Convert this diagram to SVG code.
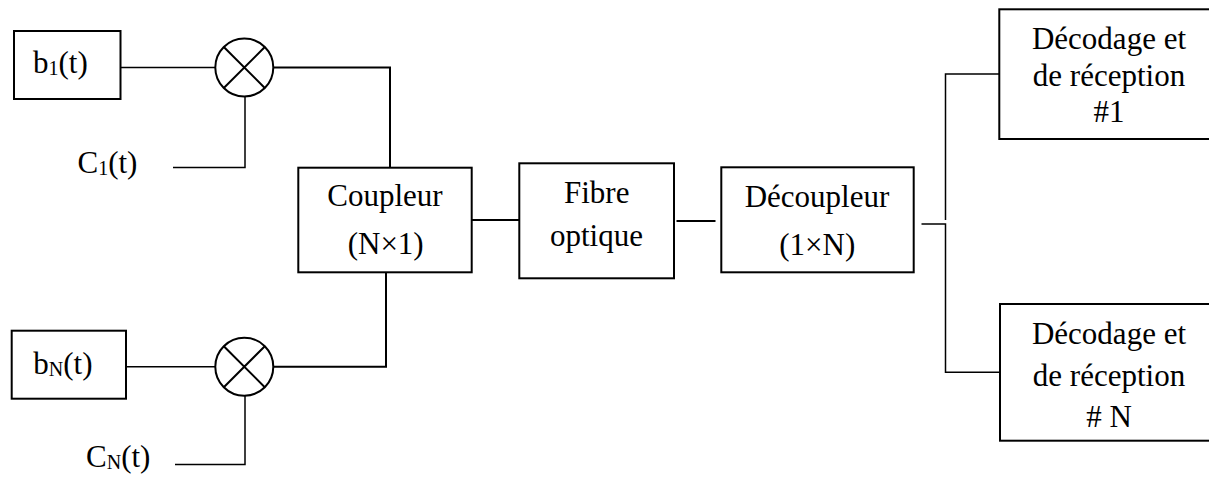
<svg xmlns="http://www.w3.org/2000/svg" width="1209" height="477" viewBox="0 0 1209 477">
  <style>
    .box { fill: #fff; stroke: #000; stroke-width: 2; }
    .wire { fill: none; stroke: #000; stroke-width: 1.5; }
    .bus { fill: none; stroke: #000; stroke-width: 2; }
    .mix { fill: #fff; stroke: #000; stroke-width: 2; }
    text { font-family: "Liberation Serif", "Times New Roman", serif; font-size: 31px; fill: #000; }
    .c { text-anchor: middle; }
    .sub { font-size: 20px; }
  </style>
  <defs>
    <g id="mixer">
      <circle r="29" class="mix"/>
      <path d="M-20.5,-20.5 L20.5,20.5 M20.5,-20.5 L-20.5,20.5" class="bus"/>
    </g>
  </defs>
  <rect width="1209" height="477" fill="#fff"/>

  <g id="connectors">
    <!-- branch 1 -->
    <path class="wire" d="M121,67.5 H215"/>
    <path class="bus" d="M273,67.5 H390 V167.5"/>
    <path class="wire" d="M245,96.5 V167.5 H173"/>
    <!-- branch N -->
    <path class="wire" d="M126,366.7 H215"/>
    <path class="bus" d="M273,366.7 H386 V272.3"/>
    <path class="wire" d="M245,395.7 V464.5 H175"/>
    <!-- main line -->
    <path class="bus" d="M472,220 H519.5"/>
    <path class="bus" d="M676.5,221 H715.5"/>
    <!-- split to receivers -->
    <path class="wire" d="M921.5,224 H945.5 V372.3 H1000"/>
    <path class="wire" d="M945.5,220 V74 H1000"/>
  </g>

  <g id="b1">
    <rect class="box" x="14" y="31" width="106.5" height="68"/>
    <text x="33" y="73.3">b<tspan class="sub" dy="2">1</tspan><tspan dy="-2">(t)</tspan></text>
  </g>

  <g id="mixer1">
    <use href="#mixer" x="244.3" y="67.5"/>
  </g>

  <g id="c1">
    <text x="77.5" y="173.3">C<tspan class="sub" dy="2">1</tspan><tspan dy="-2">(t)</tspan></text>
  </g>

  <g id="bN">
    <rect class="box" x="11.7" y="330.7" width="114.3" height="68"/>
    <text x="33.3" y="374">b<tspan class="sub" dy="2">N</tspan><tspan dy="-2">(t)</tspan></text>
  </g>

  <g id="mixerN">
    <use href="#mixer" x="244.3" y="366.7"/>
  </g>

  <g id="cN">
    <text x="86" y="466.7">C<tspan class="sub" dy="2">N</tspan><tspan dy="-2">(t)</tspan></text>
  </g>

  <g id="coupleur">
    <rect class="box" x="298.3" y="167.7" width="173.4" height="104.6"/>
    <text class="c" x="385" y="206">Coupleur</text>
    <text class="c" x="385.7" y="254">(N×1)</text>
  </g>

  <g id="fibre">
    <rect class="box" x="519.3" y="163.3" width="154.7" height="115"/>
    <text class="c" x="596.7" y="203.3">Fibre</text>
    <text class="c" x="596.5" y="246">optique</text>
  </g>

  <g id="decoupleur">
    <rect class="box" x="721.3" y="167.3" width="192.4" height="105"/>
    <text class="c" x="817" y="206.7">Découpleur</text>
    <text class="c" x="817.3" y="255">(1×N)</text>
  </g>

  <g id="recepteur1">
    <rect class="box" x="999.3" y="9.3" width="215" height="129.7"/>
    <text class="c" x="1109" y="48.5">Décodage et</text>
    <text class="c" x="1109" y="86">de réception</text>
    <text class="c" x="1109" y="121.7">#1</text>
  </g>

  <g id="recepteurN">
    <rect class="box" x="1000" y="304" width="215" height="136.7"/>
    <text class="c" x="1109" y="343.5">Décodage et</text>
    <text class="c" x="1109" y="385.5">de réception</text>
    <text class="c" x="1109" y="427.3"># N</text>
  </g>
</svg>
